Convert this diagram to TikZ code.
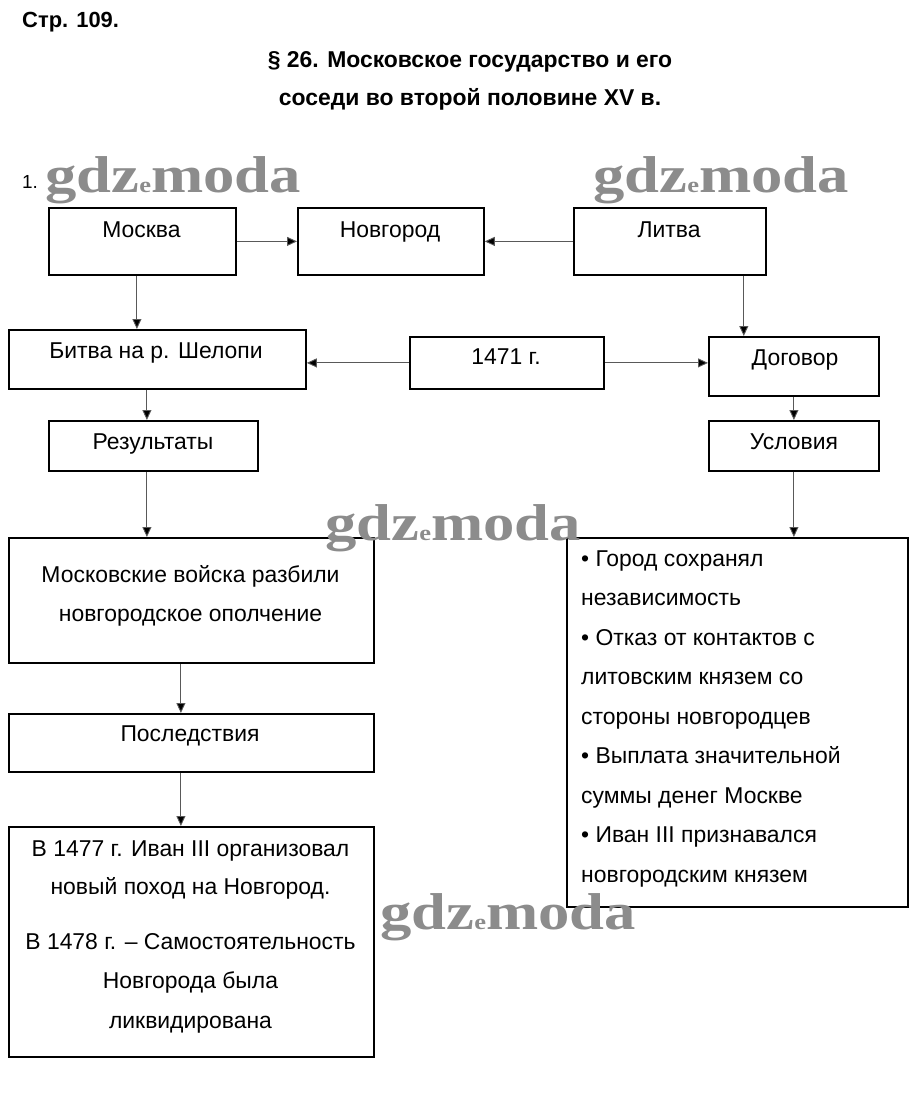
\documentclass[tikz,border=0pt]{standalone}
\usepackage{fontspec}
\setmainfont{Liberation Sans}
\newfontfamily\wmfont{Liberation Serif}
\usetikzlibrary{arrows.meta}
\begin{document}
\begin{tikzpicture}[x=1bp,y=-1bp,
  box/.style={draw=black,line width=1.8bp,inner sep=0,anchor=north west},
  txt/.style={anchor=base,inner sep=0,font=\fontsize{23}{26}\selectfont},
  ltxt/.style={anchor=base west,inner sep=0,font=\fontsize{23}{26}\selectfont},
  ttl/.style={anchor=base,inner sep=0,font=\bfseries\fontsize{23}{26}\selectfont},
  arr/.style={draw=gray!70!black,line width=0.9bp,-{Triangle[length=10bp,width=9bp,fill=black]}},
  wm/.style={anchor=base west,inner sep=0,text=black!45,xscale=1.21,font=\wmfont\bfseries\fontsize{52}{52}\selectfont}]
\useasboundingbox (0,0) rectangle (918,1104);
\fill[white] (0,0) rectangle (918,1104);
% titles
\node[anchor=base west,inner sep=0,font=\bfseries\fontsize{22}{24}\selectfont] (page) at (22,27) {Стр. 109.};
\node[ttl] (t1) at (470,67) {§ 26. Московское государство и его};
\node[ttl] (t2) at (470,105) {соседи во второй половине XV в.};
\node[anchor=base west,inner sep=0,font=\fontsize{19}{20}\selectfont] (num) at (22,188) {1.};
% boxes
\node[box,minimum width=187bp,minimum height=67bp] (mos) at (48,207) {};
\node[box,minimum width=186bp,minimum height=67bp] (nov) at (297,207) {};
\node[box,minimum width=192bp,minimum height=67bp] (lit) at (573,207) {};
\node[box,minimum width=297bp,minimum height=59bp] (bit) at (8,329) {};
\node[box,minimum width=194bp,minimum height=52bp] (yr) at (409,336) {};
\node[box,minimum width=170bp,minimum height=59bp] (dog) at (708,336) {};
\node[box,minimum width=209bp,minimum height=50bp] (res) at (48,420) {};
\node[box,minimum width=170bp,minimum height=50bp] (usl) at (708,420) {};
\node[box,minimum width=365bp,minimum height=125bp] (mt) at (8,537) {};
\node[box,minimum width=365bp,minimum height=58bp] (pos) at (8,713) {};
\node[box,minimum width=365bp,minimum height=230bp] (out) at (8,826) {};
\node[box,minimum width=341bp,minimum height=369bp] (cond) at (566,537) {};
% texts
\node[txt] (mosT) at (141.5,237) {Москва};
\node[txt] (novT) at (390,237) {Новгород};
\node[txt] (litT) at (669,237) {Литва};
\node[txt] (bitT) at (156,358) {Битва на р. Шелопи};
\node[txt] (yrT) at (506,364) {1471 г.};
\node[txt] (dogT) at (795,365) {Договор};
\node[txt] (resT) at (153,449) {Результаты};
\node[txt] (uslT) at (794,449) {Условия};
\node[txt] (mtT1) at (190.5,582) {Московские войска разбили};
\node[txt] (mtT2) at (190.5,621) {новгородское ополчение};
\node[txt] (posT) at (190,741) {Последствия};
\node[txt] (outT1) at (190.5,856) {В 1477 г. Иван III организовал};
\node[txt] (outT2) at (190.5,894) {новый поход на Новгород.};
\node[txt] (outT3) at (190.5,949) {В 1478 г. – Самостоятельность};
\node[txt] (outT4) at (190.5,988) {Новгорода была};
\node[txt] (outT5) at (190.5,1028) {ликвидирована};
\node[ltxt] (c1) at (581,566) {• Город сохранял};
\node[ltxt] (c2) at (581,605) {независимость};
\node[ltxt] (c3) at (581,645) {• Отказ от контактов с};
\node[ltxt] (c4) at (581,684) {литовским князем со};
\node[ltxt] (c5) at (581,724) {стороны новгородцев};
\node[ltxt] (c6) at (581,763) {• Выплата значительной};
\node[ltxt] (c7) at (581,803) {суммы денег Москве};
\node[ltxt] (c8) at (581,842) {• Иван III признавался};
\node[ltxt] (c9) at (581,882) {новгородским князем};
% connectors
\draw[arr] (mos) -- (nov);
\draw[arr] (lit) -- (nov);
\draw[arr] ([xshift=-5.5bp]mos.south) -- ([xshift=-5.5bp]mos.south |- bit.north);
\draw[arr] ([xshift=-23bp]lit.south east) -- ([xshift=-23bp]lit.south east |- dog.north);
\draw[arr] (yr.west) -- (yr.west -| bit.east);
\draw[arr] (yr.east) -- (yr.east -| dog.west);
\draw[arr] ([xshift=-6.5bp]res.north |- bit.south) -- ([xshift=-6.5bp]res.north);
\draw[arr] (dog.south) -- (dog.south |- usl.north);
\draw[arr] ([xshift=-6.5bp]res.south) -- ([xshift=-6.5bp]res.south |- mt.north);
\draw[arr] (usl.south) -- (usl.south |- cond.north);
\draw[arr] ([xshift=-10.5bp]mt.south) -- ([xshift=-10.5bp]mt.south |- pos.north);
\draw[arr] ([xshift=-10.5bp]pos.south) -- ([xshift=-10.5bp]pos.south |- out.north);
% watermarks
\node[wm] (wm1) at (45,192) {gdz{\fontsize{22}{22}\selectfont e}moda};
\node[wm] (wm2) at (593,192) {gdz{\fontsize{22}{22}\selectfont e}moda};
\node[wm] (wm3) at (325,540) {gdz{\fontsize{22}{22}\selectfont e}moda};
\node[wm] (wm4) at (380,929) {gdz{\fontsize{22}{22}\selectfont e}moda};
\end{tikzpicture}
\end{document}
